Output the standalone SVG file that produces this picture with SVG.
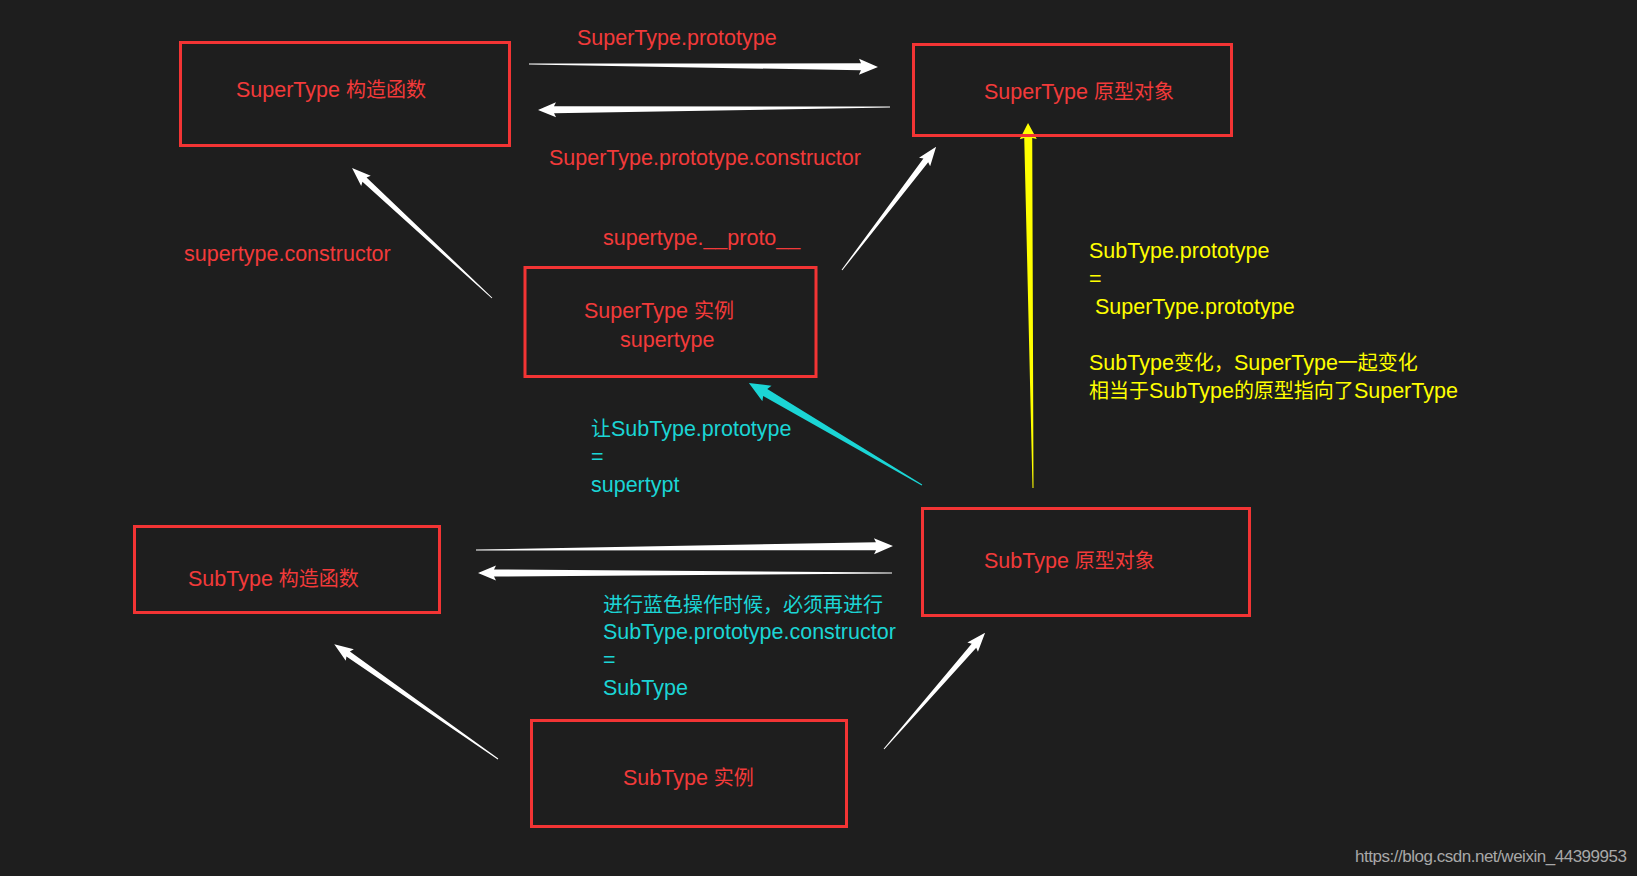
<svg xmlns="http://www.w3.org/2000/svg" width="1637" height="876" viewBox="0 0 1637 876">
<style>
.box{fill:none;stroke:#f23434;stroke-width:3}
text{font-family:"Liberation Sans","Noto Sans CJK SC",sans-serif;font-size:21.5px}
.k{font-size:20px}
.r{fill:#f23a3a}
.c{fill:#1bd5d5}
.y{fill:#ffff00}
.w{fill:#ffffff}
.wm{fill:#a8a8a8;font-size:17px}
</style>
<rect width="1637" height="876" fill="#1e1e1e"/>
<g id="connectors">
<polygon class="w" transform="translate(529,64) rotate(0.49)" points="0,-0.5 332,-3.5 330,-8 349,0 330,8 332,3.5 0,0.5"/>
<polygon class="w" transform="translate(890,107) rotate(179.51)" points="0,-0.5 336,-3.5 334,-7.5 352,0 334,7.5 336,3.5 0,0.5"/>
<polygon class="w" transform="translate(492,298) rotate(-137.12)" points="0,-0.5 174,-3 172,-7 191,0 172,7 174,3 0,0.5"/>
<polygon class="w" transform="translate(842,270) rotate(-52.61)" points="0,-0.5 138,-3 136,-7 155,0 136,7 138,3 0,0.5"/>
<polygon class="c" transform="translate(922,485) rotate(-149.47)" points="0,-0.5 182,-4 180,-9 201,0 180,9 182,4 0,0.5"/>
<polygon class="y" transform="translate(1033,488) rotate(-90.78)" points="0,-0.5 350,-4 349,-8.5 365,0 349,8.5 350,4 0,0.5"/>
<polygon class="w" transform="translate(476,550) rotate(-0.55)" points="0,-0.5 400,-4 398,-8 417,0 398,8 400,4 0,0.5"/>
<polygon class="w" transform="translate(892,573) rotate(180)" points="0,-0.5 398,-3.5 396,-7.5 414,0 396,7.5 398,3.5 0,0.5"/>
<polygon class="w" transform="translate(498,759) rotate(-144.96)" points="0,-0.5 183,-3 181,-7 200,0 181,7 183,3 0,0.5"/>
<polygon class="w" transform="translate(884,749) rotate(-48.96)" points="0,-0.5 137,-3 135,-7 154,0 135,7 137,3 0,0.5"/>
</g>
<g id="supertype-constructor">
<rect class="box" x="180.5" y="42.5" width="329" height="103"/>
<text class="r" x="236" y="97">SuperType <tspan class="k">构造函数</tspan></text>
</g>
<g id="supertype-prototype">
<rect class="box" x="913.5" y="44.5" width="318" height="91"/>
<text class="r" x="984" y="99">SuperType <tspan class="k">原型对象</tspan></text>
</g>
<g id="supertype-instance">
<rect class="box" x="525" y="267.5" width="291" height="109"/>
<text class="r" x="584" y="318">SuperType <tspan class="k">实例</tspan></text>
<text class="r" x="620" y="347">supertype</text>
</g>
<g id="subtype-constructor">
<rect class="box" x="134.5" y="526.5" width="305" height="86"/>
<text class="r" x="188" y="586">SubType <tspan class="k">构造函数</tspan></text>
</g>
<g id="subtype-prototype">
<rect class="box" x="922.5" y="508.5" width="327" height="107"/>
<text class="r" x="984" y="568">SubType <tspan class="k">原型对象</tspan></text>
</g>
<g id="subtype-instance">
<rect class="box" x="531.5" y="720.5" width="315" height="106"/>
<text class="r" x="623" y="785">SubType <tspan class="k">实例</tspan></text>
</g>
<g id="labels">
<text class="r" x="577" y="45">SuperType.prototype</text>
<text class="r" x="549" y="165">SuperType.prototype.constructor</text>
<text class="r" x="603" y="245">supertype.__proto__</text>
<text class="r" x="184" y="261">supertype.constructor</text>
<text class="c" x="591" y="436"><tspan class="k">让</tspan>SubType.prototype</text>
<text class="c" x="591" y="464">=</text>
<text class="c" x="591" y="492">supertypt</text>
<text class="c k" x="603" y="612">进行蓝色操作时候，必须再进行</text>
<text class="c" x="603" y="639">SubType.prototype.constructor</text>
<text class="c" x="603" y="667">=</text>
<text class="c" x="603" y="695">SubType</text>
<text class="y" x="1089" y="258">SubType.prototype</text>
<text class="y" x="1089" y="286">=</text>
<text class="y" x="1095" y="314">SuperType.prototype</text>
<text class="y" x="1089" y="370">SubType<tspan class="k">变化，</tspan>SuperType<tspan class="k">一起变化</tspan></text>
<text class="y" x="1089" y="398"><tspan class="k">相当于</tspan>SubType<tspan class="k">的原型指向了</tspan>SuperType</text>
<text class="wm" x="1355" y="862" textLength="272">https://blog.csdn.net/weixin_44399953</text>
</g>
</svg>
